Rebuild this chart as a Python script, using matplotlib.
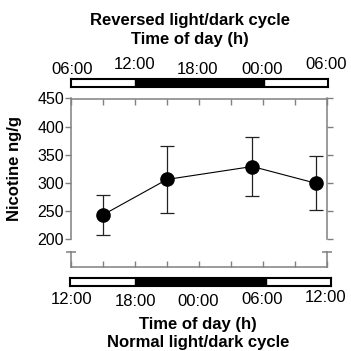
import matplotlib
matplotlib.use('Agg')
import matplotlib.pyplot as plt

############################################################
# Datos
############################################################

# horas desde las 12:00 (ciclo normal)
horas = [3, 9, 17, 23]
nicotina = [243, 306, 329, 299]
error = [35, 60, 52, 48]

ticks_horas = [0, 3, 6, 9, 12, 15, 18, 21, 24]
etiquetas_normal = ['12:00', '18:00', '00:00', '06:00', '12:00']
etiquetas_invertido = ['06:00', '12:00', '18:00', '00:00', '06:00']
oscuridad = [6, 18]

y_ticks = [200, 250, 300, 350, 400, 450]

############################################################

plt.rcParams['font.family'] = ['Liberation Sans', 'DejaVu Sans']

W = H = 351.0
gris = '#808080'

fig = plt.figure(figsize=(3.51, 3.51), dpi=100)


def px(x0, y0, x1, y1):
    return [x0 / W, 1 - y1 / H, (x1 - x0) / W, (y1 - y0) / H]


############################################################
# Eje principal
############################################################

ax = fig.add_axes(px(71, 98.5, 327, 267))

ax.errorbar(horas, nicotina, yerr=error, fmt='none', ecolor='#222222',
            elinewidth=0.9, capsize=5, capthick=0.9, zorder=2)
ax.plot(horas, nicotina, color='black', lw=0.8, marker='o',
        markersize=9.5, zorder=3)

ax.set_xlim(0, 24)
ax.set_ylim(150.2, 450)

ax.set_xticks(ticks_horas)
ax.set_xticklabels([])
ax.set_yticks(y_ticks)
ax.set_yticklabels([str(v) for v in y_ticks], fontsize=11.5)

ax.tick_params(axis='x', top=True, bottom=True, direction='in',
               length=4, width=1, color=gris)
ax.tick_params(axis='y', left=True, right=True, direction='out',
               length=4, width=1, color=gris, pad=1)

for s in ax.spines.values():
    s.set_color(gris)
    s.set_linewidth(1.1)

ax.spines['left'].set_bounds(200, 450)
ax.spines['right'].set_bounds(200, 450)

# tramo inferior del eje cortado
for xb in [0, 24]:
    ax.plot([xb, xb], [150.2, 177], color=gris, lw=1.1, clip_on=False)
    ax.plot([xb], [177], marker='_', markersize=7, mew=1.1,
            color=gris, clip_on=False)

ax.text(-0.22, (200 - 150.2) / (450 - 150.2) +
        (1 - (200 - 150.2) / (450 - 150.2)) / 2, 'Nicotine ng/g',
        transform=ax.transAxes, rotation=90, ha='center', va='center',
        fontsize=12, fontweight='bold')

############################################################
# Barras luz/oscuridad
############################################################

for caja in [px(71, 79, 328, 86.5), px(69.5, 277.5, 331, 285.5)]:
    b = fig.add_axes(caja)
    b.set_xlim(0, 24)
    b.set_ylim(0, 1)
    b.axvspan(oscuridad[0], oscuridad[1], color='black')
    b.set_xticks([])
    b.set_yticks([])
    for s in b.spines.values():
        s.set_linewidth(1.5)

############################################################
# Etiquetas de hora
############################################################

xs = [72, 135, 198, 262, 326]
y_sup = [69.5, 64.5, 69.5, 69.5, 64.5]
y_inf = [300, 302, 302, 300, 298]

for x, y, t in zip(xs, y_sup, etiquetas_invertido):
    fig.text(x / W, 1 - y / H, t, ha='center', va='center', fontsize=12)

for x, y, t in zip(xs, y_inf, etiquetas_normal):
    fig.text(x / W, 1 - y / H, t, ha='center', va='center', fontsize=12)

############################################################
# Titulos
############################################################

fig.text(190 / W, 1 - 20.5 / H, 'Reversed light/dark cycle', ha='center',
         va='center', fontsize=12, fontweight='bold')
fig.text(190 / W, 1 - 39.5 / H, 'Time of day (h)', ha='center',
         va='center', fontsize=12, fontweight='bold')
fig.text(198 / W, 1 - 324 / H, 'Time of day (h)', ha='center',
         va='center', fontsize=12, fontweight='bold')
fig.text(198 / W, 1 - 342 / H, 'Normal light/dark cycle', ha='center',
         va='center', fontsize=12, fontweight='bold')

fig.savefig('out.png', dpi=100)
